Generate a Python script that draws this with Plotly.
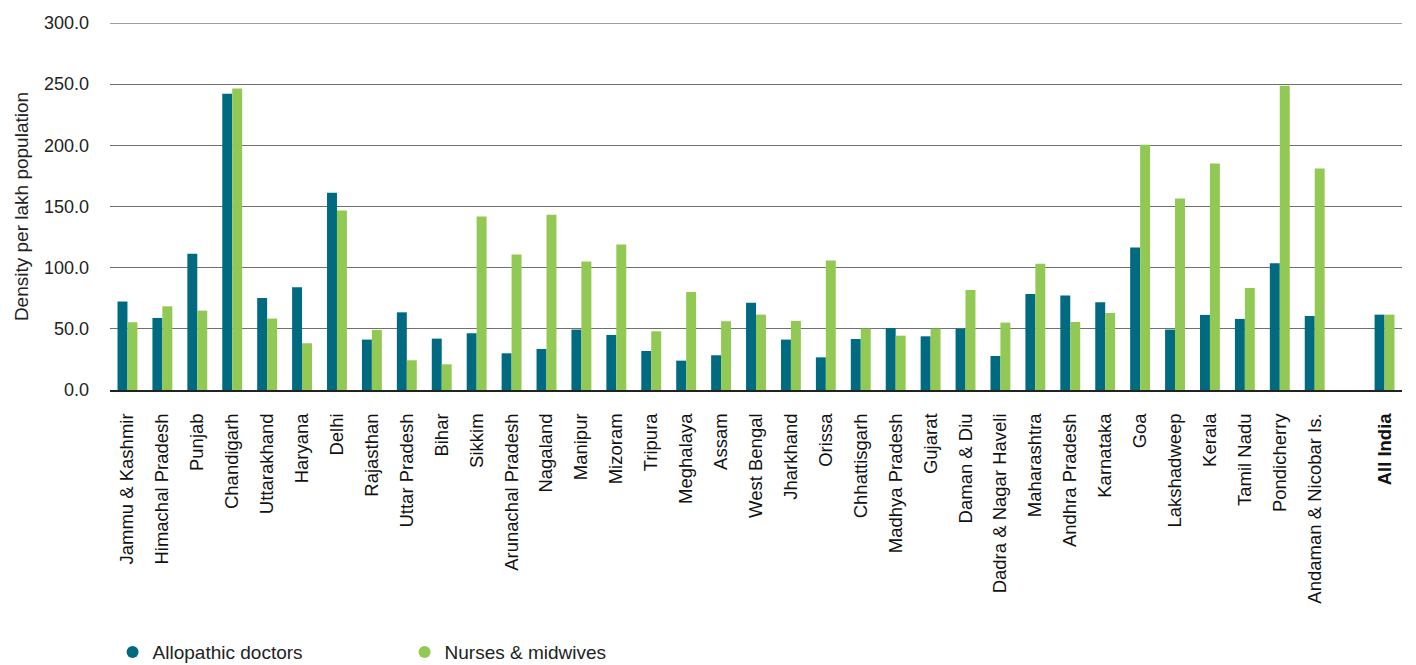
import plotly.graph_objects as go

states = ["Jammu & Kashmir", "Himachal Pradesh", "Punjab", "Chandigarh", "Uttarakhand",
          "Haryana", "Delhi", "Rajasthan", "Uttar Pradesh", "Bihar", "Sikkim",
          "Arunachal Pradesh", "Nagaland", "Manipur", "Mizoram", "Tripura", "Meghalaya",
          "Assam", "West Bengal", "Jharkhand", "Orissa", "Chhattisgarh", "Madhya Pradesh",
          "Gujarat", "Daman & Diu", "Dadra & Nagar Haveli", "Maharashtra", "Andhra Pradesh",
          "Karnataka", "Goa", "Lakshadweep", "Kerala", "Tamil Nadu", "Pondicherry",
          "Andaman & Nicobar Is.", " ", "<b>All India</b>"]

doctors = [72.3, 58.9, 111.3, 242.2, 75.3, 84.0, 161.2, 41.2, 63.5, 42.0, 46.4,
           30.0, 33.5, 49.4, 45.0, 31.9, 24.0, 28.4, 71.4, 41.2, 26.7, 41.7, 50.7,
           43.9, 50.2, 27.8, 78.5, 77.2, 71.7, 116.4, 49.4, 61.4, 58.1, 103.6,
           60.5, None, 61.6]

nurses = [55.4, 68.4, 64.9, 246.5, 58.4, 38.2, 146.7, 49.1, 24.3, 21.0, 141.8,
          110.7, 143.2, 105.0, 118.9, 48.0, 80.2, 56.2, 61.6, 56.4, 105.8, 50.2, 44.4,
          50.2, 81.8, 55.1, 103.1, 55.6, 63.0, 200.4, 156.5, 185.2, 83.4, 248.7,
          181.1, None, 61.6]

y_max = 300

series_names = ["Allopathic doctors", "Nurses & midwives"]
colors = ["#006B80", "#92C955"]

FONT = "Liberation Sans, Arial, sans-serif"

fig = go.Figure()
for name, vals, col in zip(series_names, [doctors, nurses], colors):
    fig.add_trace(go.Bar(x=states, y=vals, name=name, marker_color=col,
                         marker_line_width=0, showlegend=False))
# legend entries with round markers
for name, col in zip(series_names, colors):
    fig.add_trace(go.Scatter(x=[None], y=[None], mode="markers", name=name,
                             marker=dict(color=col, size=12, symbol="circle")))

# top gridline (plotly hides the grid line lying on the plot edge)
fig.add_shape(type="line", xref="paper", yref="y", x0=0, x1=1, y0=y_max, y1=y_max,
              line=dict(color="#808080", width=1.5), layer="below")

fig.update_layout(
    width=1400, height=657,
    margin=dict(l=102, r=6, t=15, b=275, autoexpand=False),
    paper_bgcolor="white", plot_bgcolor="white",
    barmode="group", bargap=0.43, bargroupgap=0,
    font=dict(family=FONT, color="#222222", size=18),
    showlegend=True,
    legend=dict(orientation="h", x=0.002, xanchor="left", y=-0.714, yanchor="middle",
                font=dict(size=19, family=FONT, color="#222222"),
                entrywidth=247, itemsizing="constant", traceorder="normal"),
)
fig.update_xaxes(
    type="category", categoryorder="array", categoryarray=states,
    tickangle=-90, tickfont=dict(size=18.5, family=FONT, color="#111111"),
    showline=True, linecolor="#222222", linewidth=2, ticks="",
    showgrid=False, automargin=False, ticklabelstandoff=14,
)
fig.update_yaxes(
    range=[0, y_max], dtick=50, tickformat=".1f",
    showgrid=True, gridcolor="#707070", gridwidth=1,
    zeroline=False, showline=False, ticks="",
    tickfont=dict(size=18, family=FONT, color="#222222"),
    ticklabelstandoff=20, automargin=False,
    title=dict(text="Density per lakh population", font=dict(size=19, family=FONT, color="#222222"),
               standoff=10),
)

fig.write_html("out.html")
